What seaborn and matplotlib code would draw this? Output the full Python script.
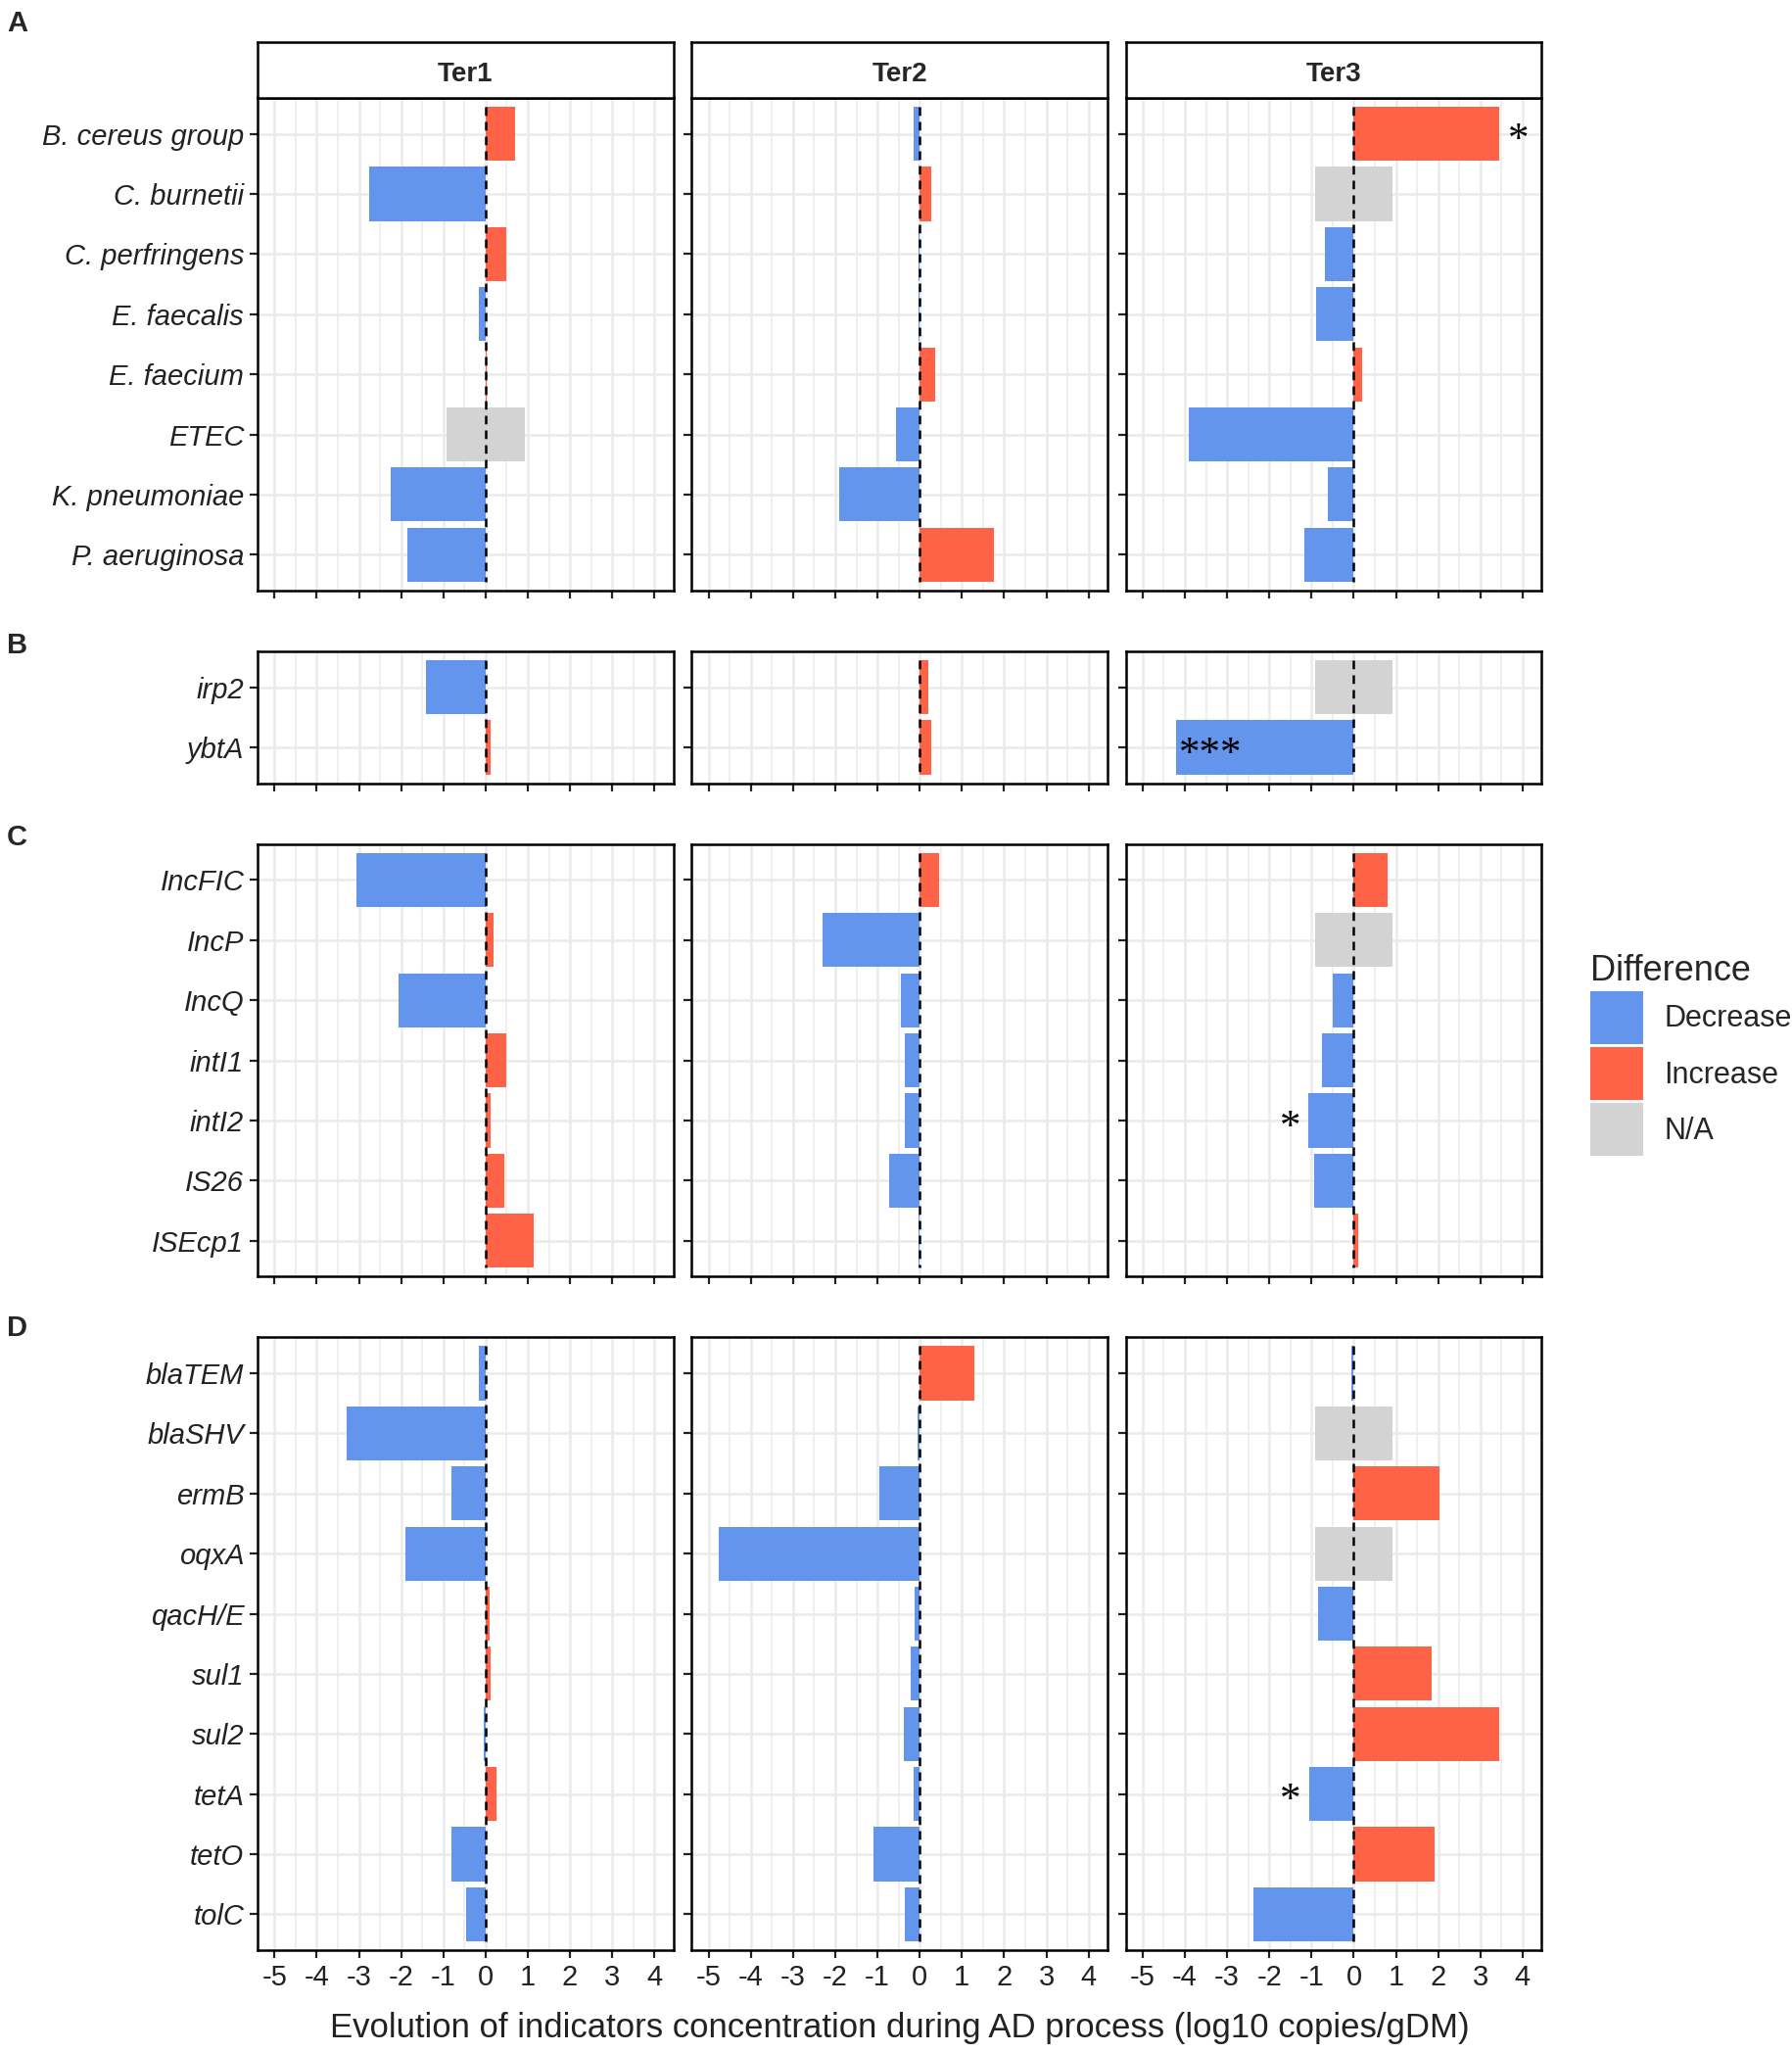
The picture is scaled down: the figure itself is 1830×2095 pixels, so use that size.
import matplotlib
matplotlib.use('Agg')
import matplotlib.pyplot as plt
from matplotlib.patches import Patch
from matplotlib.ticker import MultipleLocator
import seaborn as sns
import pandas as pd
import numpy as np

# ---- data (log10 copies/gDM difference; nan = N/A) ----
sites = ['Ter1', 'Ter2', 'Ter3']

pathogens = ['B. cereus group', 'C. burnetii', 'C. perfringens', 'E. faecalis',
             'E. faecium', 'ETEC', 'K. pneumoniae', 'P. aeruginosa']
pathogens_ter1 = [0.7, -2.75, 0.5, -0.15, 0.03, np.nan, -2.25, -1.85]
pathogens_ter2 = [-0.15, 0.28, -0.02, -0.03, 0.37, -0.55, -1.9, 1.75]
pathogens_ter3 = [3.45, np.nan, -0.68, -0.9, 0.2, -3.9, -0.62, -1.18]

virulence = ['irp2', 'ybtA']
virulence_ter1 = [-1.42, 0.13]
virulence_ter2 = [0.2, 0.27]
virulence_ter3 = [np.nan, -4.2]

mobile = ['IncFIC', 'IncP', 'IncQ', 'intI1', 'intI2', 'IS26', 'ISEcp1']
mobile_ter1 = [-3.07, 0.18, -2.07, 0.5, 0.12, 0.45, 1.15]
mobile_ter2 = [0.47, -2.3, -0.45, -0.35, -0.35, -0.72, -0.03]
mobile_ter3 = [0.8, np.nan, -0.5, -0.75, -1.08, -0.95, 0.1]

resistance = ['blaTEM', 'blaSHV', 'ermB', 'oqxA', 'qacH/E', 'sul1', 'sul2',
              'tetA', 'tetO', 'tolC']
resistance_ter1 = [-0.15, -3.3, -0.8, -1.9, 0.1, 0.13, -0.05, 0.25, -0.8, -0.47]
resistance_ter2 = [1.3, -0.05, -0.95, -4.75, -0.12, -0.22, -0.37, -0.15, -1.1, -0.35]
resistance_ter3 = [-0.05, np.nan, 2.02, np.nan, -0.85, 1.85, 3.45, -1.05, 1.92, -2.38]

# significance marks: (panel, site, indicator, label, x position)
signif = [
    ('A', 'Ter3', 'B. cereus group', '*', 3.9),
    ('B', 'Ter3', 'ybtA', '***', -3.4),
    ('C', 'Ter3', 'intI2', '*', -1.5),
    ('D', 'Ter3', 'tetA', '*', -1.5),
]

groups = {
    'A': (pathogens, [pathogens_ter1, pathogens_ter2, pathogens_ter3]),
    'B': (virulence, [virulence_ter1, virulence_ter2, virulence_ter3]),
    'C': (mobile, [mobile_ter1, mobile_ter2, mobile_ter3]),
    'D': (resistance, [resistance_ter1, resistance_ter2, resistance_ter3]),
}

rows = []
for g, (cats, series) in groups.items():
    for site, vals in zip(sites, series):
        for cat, v in zip(cats, vals):
            if np.isnan(v):
                diff = 'N/A'
            elif v < 0:
                diff = 'Decrease'
            else:
                diff = 'Increase'
            rows.append({'group': g, 'site': site, 'indicator': cat,
                         'value': v, 'Difference': diff})
df = pd.DataFrame(rows)

hue_order = ['Decrease', 'Increase', 'N/A']
palette = {'Decrease': '#6495ED', 'Increase': '#FF6347', 'N/A': '#D3D3D3'}
NA_SPAN = 0.92  # half-width of the grey N/A placeholder bar

# ---- style ----
sns.set_style('white')
plt.rcParams['font.family'] = ['Liberation Sans', 'DejaVu Sans']
plt.rcParams['axes.unicode_minus'] = False

fig = plt.figure(figsize=(18.31, 20.95), dpi=100)
heights = [len(groups[g][0]) + 0.2 for g in groups]
gs = fig.add_gridspec(4, 3, height_ratios=heights, left=0.1437, right=0.8598,
                      top=0.9523, bottom=0.0496, hspace=0.145, wspace=0.044)

label_y = {'A': 0.9885, 'B': 0.6856, 'C': 0.5918, 'D': 0.3527}

for r, g in enumerate(groups):
    cats = groups[g][0]
    n = len(cats)
    for c, site in enumerate(sites):
        ax = fig.add_subplot(gs[r, c])
        sub = df[(df['group'] == g) & (df['site'] == site)]
        known = sub[sub['Difference'] != 'N/A']
        na = sub[sub['Difference'] == 'N/A']
        common = dict(x='value', y='indicator', hue='Difference', order=cats,
                      hue_order=hue_order, palette=palette, dodge=False,
                      width=0.9, saturation=1, legend=False, orient='h',
                      linewidth=0, errorbar=None, ax=ax)
        sns.barplot(data=known, **common)
        if len(na):
            sns.barplot(data=na.assign(value=NA_SPAN), **common)
            sns.barplot(data=na.assign(value=-NA_SPAN), **common)

        ax.vlines(0, -0.45, n - 0.55, colors='black', linestyles=(0, (3.5, 2.5)),
                  linewidth=1.8, zorder=5)

        for (pg, ps, ind, lab, xpos) in signif:
            if pg == g and ps == site:
                ax.text(xpos, cats.index(ind) + 0.12, lab, ha='center', va='center',
                        fontsize=31, color='black', zorder=6,
                        family=['Liberation Serif', 'DejaVu Serif'])

        ax.set_xlim(-5.4, 4.45)
        ax.set_ylim(n - 1 + 0.6, -0.6)
        ax.set_xticks(range(-5, 5))
        ax.xaxis.set_minor_locator(MultipleLocator(0.5))
        ax.set_axisbelow(True)
        ax.grid(which='major', axis='both', color='#EBEBEB', linewidth=1.8)
        ax.grid(which='minor', axis='x', color='#EBEBEB', linewidth=1.1)
        ax.tick_params(which='minor', length=0)
        ax.tick_params(which='major', direction='out', length=6, width=1.6,
                       color='#222222', labelsize=21, labelcolor='#222222', pad=4,
                       bottom=True, left=True)
        for lab in ax.get_yticklabels():
            lab.set_fontstyle('italic')
        for sp in ax.spines.values():
            sp.set_color('black')
            sp.set_linewidth(1.8)
        ax.set_xlabel('')
        ax.set_ylabel('')
        if r < 3:
            ax.tick_params(labelbottom=False)
        if c > 0:
            ax.tick_params(labelleft=False)

        if r == 0:
            strip = ax.inset_axes([0, 1, 1, 0.114])
            strip.set_xticks([])
            strip.set_yticks([])
            for sp in strip.spines.values():
                sp.set_color('black')
                sp.set_linewidth(1.8)
            strip.text(0.5, 0.42, site, ha='center', va='center', fontsize=20,
                       fontweight='bold', transform=strip.transAxes)
    fig.text(0.0095, label_y[g], g, fontsize=21, fontweight='bold',
             ha='center', va='center')

fig.text(0.5017, 0.0117,
         'Evolution of indicators concentration during AD process (log10 copies/gDM)',
         ha='center', va='center', fontsize=25, color='#222222')

handles = [Patch(facecolor=palette[h], edgecolor='none', label=h) for h in hue_order]
leg = fig.legend(handles=handles, title='Difference', loc='upper left',
                 bbox_to_anchor=(0.8805, 0.541), frameon=False, fontsize=22,
                 title_fontsize=26, handlelength=1.75, handleheight=2.35,
                 labelspacing=0.1, handletextpad=0.7, borderaxespad=0)
leg._legend_box.align = 'left'

fig.savefig('out.png', dpi=100)
